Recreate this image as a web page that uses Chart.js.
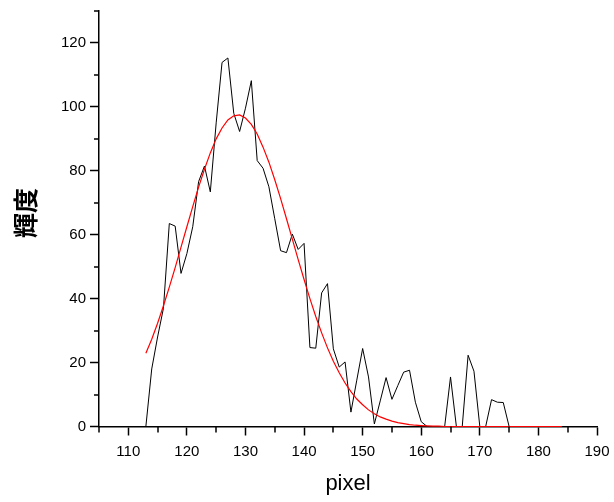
<!DOCTYPE html>
<html><head><meta charset="utf-8">
<script src="https://cdn.jsdelivr.net/npm/chart.js@4"></script>
<style>html,body{margin:0;padding:0;background:#fff}</style>
</head><body>
<canvas id="c" width="614" height="502"></canvas>
<script>
// pixel positions (x) of the profile samples
const pixelPos = [113,114,115,116,117,118,119,120,121,122,123,124,125,126,127,128,129,130,131,132,133,134,135,136,137,138,139,140,141,142,143,144,145,146,147,148,149,150,151,152,153,154,155,156,157,158,159,160,161,162,163,164,165,166,167,168,169,170,171,172,173,174,175,176,177,178,179,180,181,182,183,184];
// measured brightness (black line)
const brightness = [0,18,28,37,63.5,62.7,47.9,54.1,62.5,76.6,81.5,73.4,95,113.9,115.3,98,92.3,99.6,108.2,83.2,80.8,75,65,55,54.4,60.2,55.4,57.3,24.7,24.5,41.8,44.7,24.3,18.6,20.2,4.5,14.5,24.4,15.5,0.8,8,15.3,8.5,12.8,17,17.6,7.6,1.5,0,0,0,0,15.5,0,0,22.3,17.3,0,0,8.4,7.6,7.5,0,0,0,0,0,0,0,0,0,0];
// fitted curve (red line)
const fitCurve = [22.9,27.3,32.3,37.8,43.6,49.7,56.1,62.5,68.8,74.9,80.5,85.6,90.0,93.4,95.9,97.2,97.5,96.5,94.5,91.5,87.4,82.7,77.2,71.3,65.0,58.6,52.2,46.0,40.0,34.4,29.3,24.6,20.4,16.8,13.6,10.9,8.6,6.8,5.2,4.0,3.0,2.3,1.7,1.2,0.9,0.6,0.4,0.3,0.2,0.1,0.1,0,0,0,0,0,0,0,0,0,0,0,0,0,0,0,0,0,0,0,0,0];
const xMajorTicks = [110,120,130,140,150,160,170,180,190];
const xMinorTicks = [105,115,125,135,145,155,165,175,185];
const yMajorTicks = [0,20,40,60,80,100,120];
const yMinorTicks = [10,30,50,70,90,110,130];
const xTitle = 'pixel';
const yTitle = '輝度';

const minorTicks = {
  id: 'minorTicks',
  afterDraw(chart) {
    const ctx = chart.ctx, xs = chart.scales.x, ys = chart.scales.y;
    ctx.save();
    ctx.strokeStyle = '#000';
    ctx.lineWidth = 1.5;
    ctx.beginPath();
    xMinorTicks.forEach(v => { const p = Math.round(xs.getPixelForValue(v)); ctx.moveTo(p, ys.bottom); ctx.lineTo(p, ys.bottom + 6); });
    yMinorTicks.forEach(v => { const p = Math.round(ys.getPixelForValue(v)); ctx.moveTo(xs.left, p); ctx.lineTo(xs.left - 5, p); });
    ctx.stroke();
    // y axis title
    ctx.fillStyle = '#000';
    ctx.font = 'bold 25px "Noto Sans CJK JP"';
    ctx.textAlign = 'center';
    ctx.textBaseline = 'middle';
    ctx.translate(25, 213);
    ctx.rotate(-Math.PI / 2);
    ctx.fillText(yTitle, 0, 0);
    ctx.restore();
  }
};

new Chart(document.getElementById('c'), {
  type: 'line',
  data: {
    datasets: [
      { data: pixelPos.map((x, i) => ({x, y: fitCurve[i]})), borderColor: '#ff0000', borderWidth: 1.2, pointRadius: 0, tension: 0, order: 0, clip: 3 },
      { data: pixelPos.map((x, i) => ({x, y: brightness[i]})), borderColor: '#000000', borderWidth: 1, pointRadius: 0, tension: 0, order: 1 }
    ]
  },
  options: {
    responsive: false,
    animation: false,
    layout: { padding: { left: 0, top: 11, right: 17, bottom: 0 } },
    plugins: { legend: { display: false }, tooltip: { enabled: false } },
    scales: {
      x: {
        type: 'linear', min: 105, max: 190,
        afterBuildTicks: s => { s.ticks = xMajorTicks.map(v => ({ value: v })); },
        afterFit: s => { s.height = 75.5; s.paddingLeft = 0; s.paddingRight = 0; },
        grid: { drawOnChartArea: false, drawTicks: true, tickLength: 9, tickWidth: 1.5, tickColor: '#000' },
        border: { display: true, color: '#000', width: 1.5, z: -1 },
        ticks: { color: '#000', font: { family: 'Liberation Sans', size: 15 }, padding: 7, maxRotation: 0, autoSkip: false },
        title: { display: true, text: xTitle, color: '#000', font: { family: 'Liberation Sans', size: 22 }, padding: { top: 0, bottom: 5 } }
      },
      y: {
        type: 'linear', min: 0, max: 130,
        afterBuildTicks: s => { s.ticks = yMajorTicks.map(v => ({ value: v })); },
        afterFit: s => { s.width = 99; s.paddingTop = 0; s.paddingBottom = 0; },
        grid: { drawOnChartArea: false, drawTicks: true, tickLength: 9, tickWidth: 1.5, tickColor: '#000' },
        border: { display: true, color: '#000', width: 1.5, z: -1 },
        ticks: { color: '#000', font: { family: 'Liberation Sans', size: 15 }, padding: 4, autoSkip: false }
      }
    }
  },
  plugins: [minorTicks]
});
</script>
</body></html>
